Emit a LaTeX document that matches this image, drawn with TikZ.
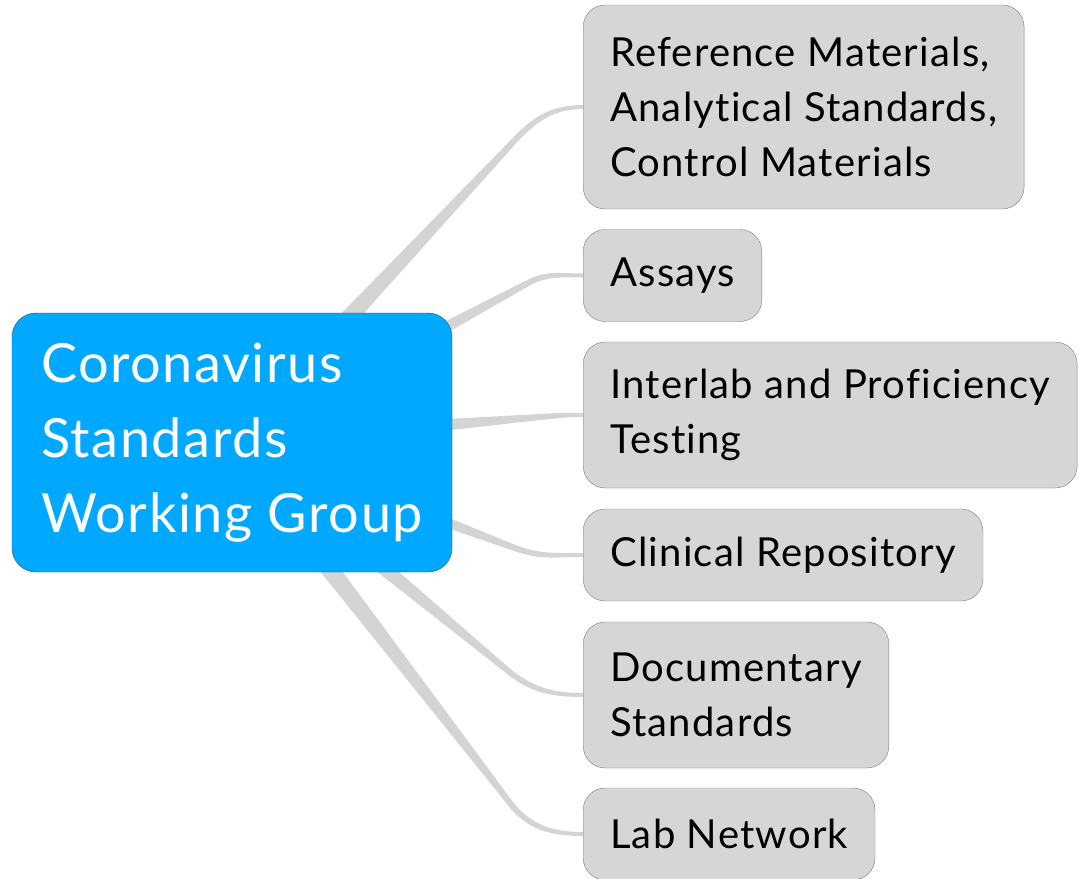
\documentclass[tikz,border=0pt]{standalone}
\usepackage{fontspec}
\setmainfont{Lato}[LetterSpace=3,Ligatures=NoCommon]
\usetikzlibrary{calc,backgrounds}
\definecolor{bleu}{RGB}{0,168,255}
\definecolor{bordbleu}{RGB}{25,85,125}
\definecolor{gris}{RGB}{214,214,214}
\definecolor{bordgris}{RGB}{125,125,125}
\definecolor{branche}{RGB}{212,212,212}

\begin{document}
\begin{tikzpicture}[x=1pt,y=-1pt]
\tikzstyle{lien}=[fill=branche]
\tikzset{sujet/.style={draw=bordgris,fill=gris,rounded corners=22pt,anchor=west,
  align=left,inner xsep=27pt,minimum height=#1,font=\fontsize{40}{55}\selectfont},
sujet/.default={92pt},
centre/.style={draw=bordbleu,fill=bleu,text=white,rounded corners=24pt,
  align=left,inner xsep=28pt,minimum height=259pt,minimum width=440pt,
  font=\fontsize{54}{75}\selectfont}}
\useasboundingbox (0,0) rectangle (1086,878);

\node[centre] (hub) at (232,442.5) {Coronavirus\\Standards\\Working Group};

\node[sujet=204pt] (ref) at (583,107) {Reference Materials,\\Analytical Standards,\\Control Materials};
\node[sujet] (ess) at (583,275.5) {Assays};
\node[sujet=146pt] (inter) at (583,415) {Interlab and Proficiency\\Testing};
\node[sujet] (clin) at (583,555) {Clinical Repository};
\node[sujet=146pt] (doc) at (583,695) {Documentary\\Standards};
\node[sujet] (lab) at (583,834) {Lab Network};

% coudes des branches
\coordinate (c1) at (515,140);
\coordinate (c2) at (528,283);
\coordinate (c3) at (540,417);
\coordinate (c4) at (515,548);
\coordinate (c5) at (507,670);
\coordinate (c6) at (510,803);

\begin{scope}[on background layer]
\foreach \s/\c in {ref/c1,ess/c2,inter/c3,clin/c4,doc/c5,lab/c6}
  \fill[lien] let \p1=($(\c)-(hub.center)$), \n1={atan2(\y1,\x1)} in
    ($(hub.center)!12pt!90:(\c)$) -- ($(\c)+(\n1+90:3pt)$)
    to[out=\n1,in=180] ($(\s.west)+(0,2pt)$) -- ($(\s.west)+(0,-2pt)$)
    to[out=180,in=\n1] ($(\c)+(\n1-90:3pt)$) -- ($(hub.center)!12pt!-90:(\c)$) -- cycle;
\end{scope}

\end{tikzpicture}
\end{document}
